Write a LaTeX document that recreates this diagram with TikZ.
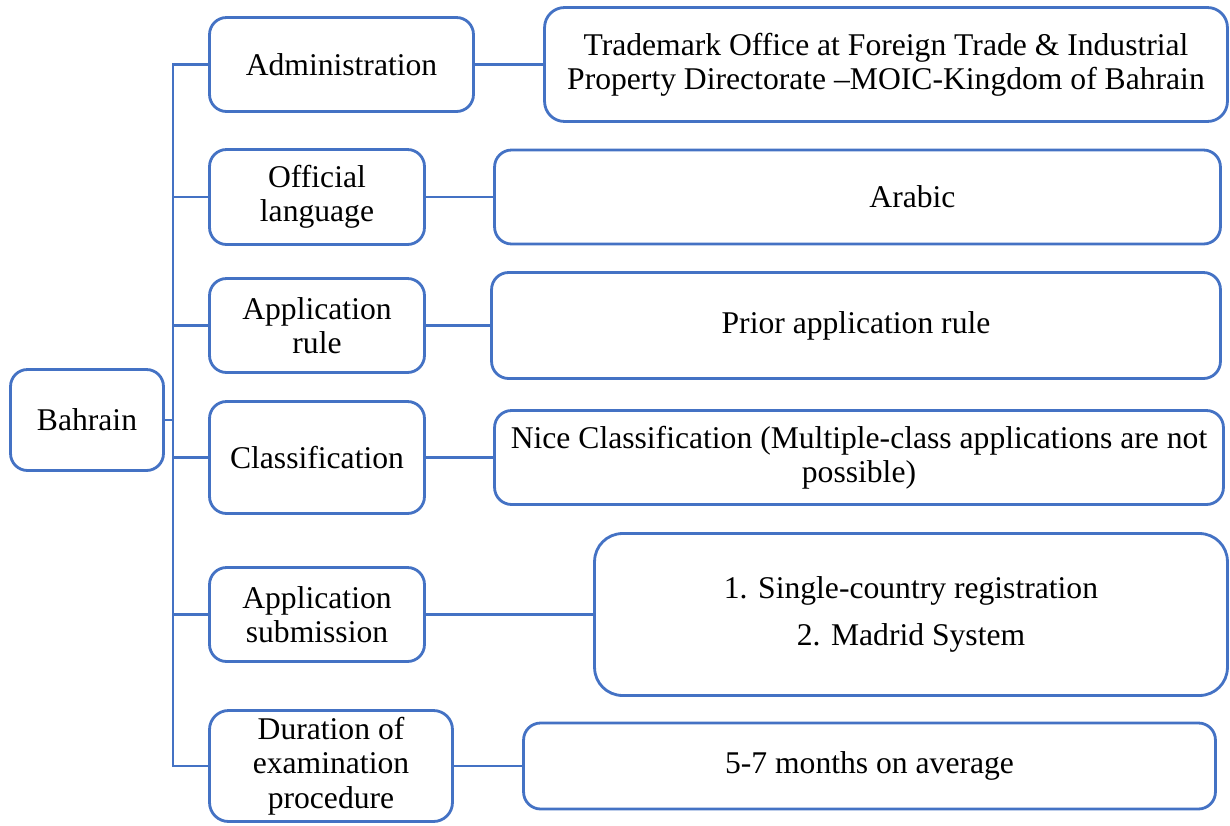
\documentclass[tikz,border=0pt]{standalone}
\usepackage{fontspec}
\setmainfont{Liberation Serif}
\usepackage{tikz}
\definecolor{boxblue}{RGB}{68,114,196}

\begin{document}
\begin{tikzpicture}[x=0.02cm, y=-0.02cm, line width=1.6pt,
		main node/.style={rectangle, rounded corners=0.34cm, draw=boxblue, fill=white, align=center, inner sep=1pt, font=\fontsize{18}{19.5}\selectfont}]
		
		\useasboundingbox (0,0) rectangle (1230,825);
		
		\node[main node, minimum width=3.06cm, minimum height=2.02cm] (0) at (87,420) {Bahrain};
		
		\node[main node, minimum width=5.28cm, minimum height=1.88cm] (1) at (341.5,64.5) {Administration};
		\node[main node, minimum width=4.30cm, minimum height=1.90cm] (2) at (317,197) {Official\\language};
		\node[main node, minimum width=4.30cm, minimum height=1.88cm] (3) at (317,325.5) {Application\\rule};
		\node[main node, minimum width=4.30cm, minimum height=2.24cm] (4) at (317,457.5) {Classification};
		\node[main node, minimum width=4.30cm, minimum height=1.88cm] (5) at (317,614.5) {Application\\submission};
		\node[main node, minimum width=4.86cm, minimum height=2.22cm, rounded corners=0.38cm] (6) at (331,766) {Duration of\\examination\\procedure};
		
		\node[main node, minimum width=13.66cm, minimum height=2.28cm, rounded corners=0.4cm] (11) at (886,64.5) {Trademark Office at Foreign Trade \& Industrial\\Property Directorate --MOIC-Kingdom of Bahrain};
		\node[main node, minimum width=14.52cm, minimum height=1.88cm] (12) at (857.5,197) {\hspace*{2.2cm}Arabic};
		\node[main node, minimum width=14.58cm, minimum height=2.12cm] (13) at (856,325.5) {Prior application rule};
		\node[main node, minimum width=14.58cm, minimum height=1.88cm] (14) at (859,457.5) {Nice Classification (Multiple-class applications are not\\possible)};
		\node[main node, minimum width=12.66cm, minimum height=3.24cm, rounded corners=0.56cm] (15) at (911,614.5) {1. Single-country registration\\[0.24cm]2. Madrid System};
		\node[main node, minimum width=13.84cm, minimum height=1.72cm] (16) at (869.5,766) {5-7 months on average};
		
		\coordinate (t) at (173,420);
		
		\draw[boxblue] (1.west) -- (1.west -| t) -- (6.west -| t) -- (6.west);
		\draw[boxblue] (0.east) -- (t);
		\draw[boxblue] (2.west) -- (2.west -| t);
		\draw[boxblue] (3.west) -- (3.west -| t);
		\draw[boxblue] (4.west) -- (4.west -| t);
		\draw[boxblue] (5.west) -- (5.west -| t);
		
		\path[draw=boxblue]
		(1) edge (11)
		(2) edge (12)
		(3) edge (13)
		(4) edge (14)
		(5) edge (15)
		(6) edge (16);
		\end{tikzpicture}
\end{document}
